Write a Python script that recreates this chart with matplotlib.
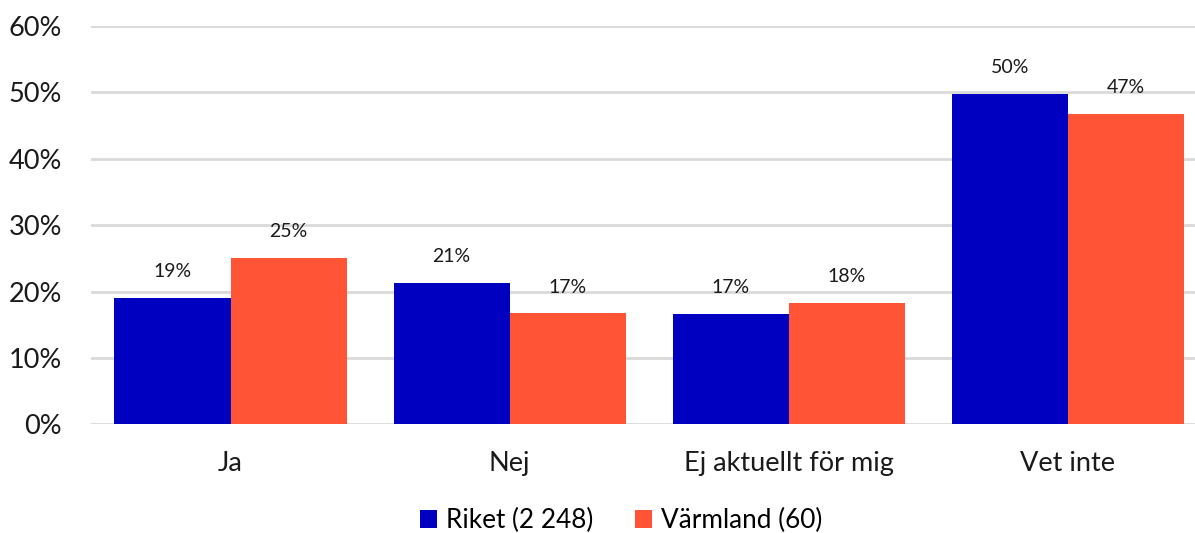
import matplotlib
matplotlib.use("Agg")
from matplotlib import pyplot as plt
from matplotlib.ticker import PercentFormatter
import numpy as np

categories = ["Ja", "Nej", "Ej aktuellt för mig", "Vet inte"]
riket = [19.0, 21.3, 16.6, 49.7]
varmland = [25.0, 16.7, 18.3, 46.7]
series_names = ["Riket (2 248)", "Värmland (60)"]
colors = ["#0000C0", "#FF5436"]

plt.rcParams['font.family'] = ['Lato', 'DejaVu Sans']

fig = plt.figure(figsize=(11.95, 5.33), dpi=100)
ax = fig.add_axes([0.0762, 0.2036, 0.934, 0.7484])

x = np.arange(len(categories))
w = 0.416
b1 = ax.bar(x - w / 2, riket, w, color=colors[0], label=series_names[0], zorder=3)
b2 = ax.bar(x + w / 2, varmland, w, color=colors[1], label=series_names[1], zorder=3)

for bars, vals in ((b1, riket), (b2, varmland)):
    for bar, v in zip(bars, vals):
        ax.annotate(f"{v:.0f}%", (bar.get_x() + bar.get_width() / 2, v),
                    xytext=(0, 19), textcoords="offset points",
                    ha="center", va="center", fontsize=14, color="#1a1a1a")

ax.set_xlim(-0.5, 3.5)
ax.set_ylim(0, 60)
ax.set_yticks(range(0, 61, 10))
ax.yaxis.set_major_formatter(PercentFormatter(decimals=0))
ax.set_xticks(x)
ax.set_xticklabels(categories)
ax.tick_params(axis="both", length=0, labelsize=19.5, colors="#1a1a1a")
ax.tick_params(axis="x", pad=19)
ax.tick_params(axis="y", pad=21)
ax.grid(axis="y", color="#D9D9D9", linewidth=2, zorder=0)
for s in ax.spines.values():
    s.set_visible(False)

fig.legend(handles=[b1, b2], loc="center", bbox_to_anchor=(0.52, 0.023),
           ncol=2, frameon=False, fontsize=18.8, handlelength=0.65, handleheight=0.65,
           handletextpad=0.35, columnspacing=1.6)

fig.savefig("out.png", dpi=100)
